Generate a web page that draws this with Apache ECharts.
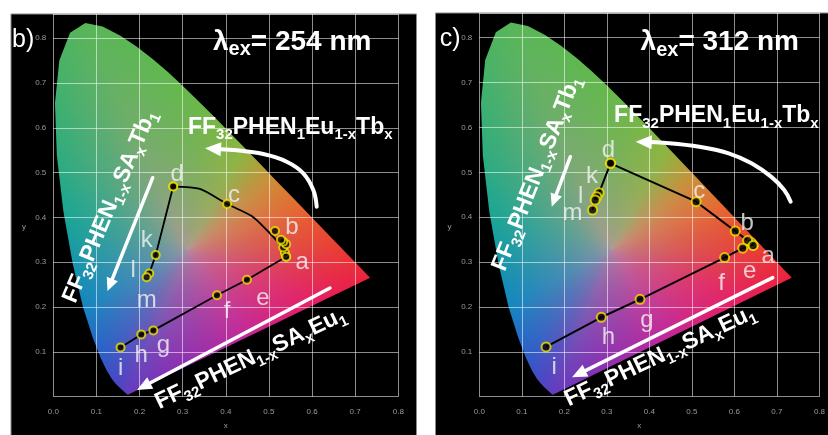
<!DOCTYPE html>
<html>
<head>
<meta charset="utf-8">
<script src="https://cdn.jsdelivr.net/npm/echarts@6/dist/echarts.min.js"></script>
<style>
  html, body { margin: 0; padding: 0; background: #fff; }
  #chart { width: 828px; height: 435px; }
</style>
</head>
<body>
<div id="chart"></div>
<script>
// CIE 1931 2° spectral locus, 380–700 nm in 5 nm steps
const LOCUS_X = [0.1741,0.1740,0.1738,0.1736,0.1733,0.1730,0.1726,0.1721,0.1714,0.1703,0.1689,0.1669,0.1644,0.1611,0.1566,0.1510,0.1440,0.1355,0.1241,0.1096,0.0913,0.0687,0.0454,0.0235,0.0082,0.0039,0.0139,0.0389,0.0743,0.1142,0.1547,0.1929,0.2296,0.2658,0.3016,0.3373,0.3731,0.4087,0.4441,0.4788,0.5125,0.5448,0.5752,0.6029,0.6270,0.6482,0.6658,0.6801,0.6915,0.7006,0.7079,0.7140,0.7190,0.7230,0.7260,0.7283,0.7300,0.7311,0.7320,0.7327,0.7334,0.7340,0.7344,0.7346,0.7347];
const LOCUS_Y = [0.0050,0.0050,0.0049,0.0049,0.0048,0.0048,0.0048,0.0048,0.0051,0.0058,0.0069,0.0086,0.0109,0.0138,0.0177,0.0227,0.0297,0.0399,0.0578,0.0868,0.1327,0.2007,0.2950,0.4127,0.5384,0.6548,0.7502,0.8120,0.8338,0.8262,0.8059,0.7816,0.7543,0.7243,0.6923,0.6589,0.6245,0.5896,0.5547,0.5202,0.4866,0.4544,0.4242,0.3965,0.3725,0.3514,0.3340,0.3197,0.3083,0.2993,0.2920,0.2859,0.2809,0.2770,0.2740,0.2717,0.2700,0.2689,0.2680,0.2673,0.2666,0.2660,0.2656,0.2654,0.2653];

// Axis ticks
const X_TICKS = [0.0, 0.1, 0.2, 0.3, 0.4, 0.5, 0.6, 0.7, 0.8];
const PANEL_TAGS = ['b)', 'c)'];
const EXCITATION_NM = [254, 312];

// Panel b (λex = 254 nm): chromaticity coordinates [x, y]
const B_EUTB = [[0.540,0.3125],[0.537,0.321],[0.533,0.333],[0.540,0.340],[0.533,0.346],[0.528,0.350],[0.514,0.370],[0.403,0.430],[0.278,0.469]];
const B_EUTB_NAMES = ['a','','','','','','b','c','d'];
const B_EUTB_TREND = [[0.278,0.469],[0.340,0.4636],[0.403,0.430],[0.460,0.403],[0.495,0.372],[0.531,0.335]];
const B_SAEU = [[0.540,0.3125],[0.449,0.261],[0.3795,0.2263],[0.232,0.148],[0.204,0.139],[0.156,0.110]];
const B_SAEU_NAMES = ['a','e','f','g','h','i'];
const B_SATB = [[0.278,0.469],[0.2375,0.316],[0.2225,0.275],[0.2165,0.2665]];
const B_SATB_NAMES = ['d','k','l','m'];

// Panel c (λex = 312 nm)
const C_EUTB = [[0.644,0.337],[0.640,0.343],[0.631,0.348],[0.602,0.369],[0.510,0.4345],[0.3086,0.520]];
const C_EUTB_NAMES = ['a','','','b','c','d'];
const C_SAEU = [[0.644,0.337],[0.6195,0.331],[0.577,0.310],[0.378,0.217],[0.287,0.177],[0.157,0.111]];
const C_SAEU_NAMES = ['a','e','f','g','h','i'];
const C_SATB = [[0.3086,0.520],[0.2818,0.4546],[0.2763,0.4457],[0.2726,0.4383],[0.2664,0.416]];
const C_SATB_NAMES = ['d','k','l','','m'];

// ---------------------------------------------------------------------------
const SANS = "'Liberation Sans', Arial, Helvetica, sans-serif";
const NARROW = "'Liberation Sans Narrow', 'Liberation Sans', Arial, sans-serif";
const GRID_LINE = 'rgba(255,255,255,0.55)';
const TICK_TEXT = '#9a9a9a';

// white point used for the gamut shading
const WX = 0.3127, WY = 0.329;
// edge colour of the gamut by hue angle (degrees around the white point)
const HUE_STOPS = [
  [0.8, [234, 62, 50]], [20, [230, 104, 48]], [38, [206, 140, 54]], [60, [140, 182, 62]],
  [86, [106, 184, 72]], [101, [94, 184, 80]], [115, [88, 182, 88]], [133, [60, 176, 112]],
  [164, [26, 166, 148]], [208, [20, 134, 192]], [230, [44, 94, 200]], [241, [74, 70, 196]],
  [247, [100, 60, 190]], [258, [128, 50, 182]], [305, [196, 38, 152]], [339, [230, 30, 100]],
  [351, [236, 34, 62]]
];
const CENTER_RGB = [182, 150, 156];

function hueColor(a) {
  const stops = [[HUE_STOPS[HUE_STOPS.length - 1][0] - 360, HUE_STOPS[HUE_STOPS.length - 1][1]]]
    .concat(HUE_STOPS, [[HUE_STOPS[0][0] + 360, HUE_STOPS[0][1]]]);
  for (let i = 0; i < stops.length - 1; i++) {
    const [a0, c0] = stops[i], [a1, c1] = stops[i + 1];
    if (a >= a0 && a <= a1) {
      const t = (a - a0) / (a1 - a0);
      return [c0[0] + (c1[0] - c0[0]) * t, c0[1] + (c1[1] - c0[1]) * t, c0[2] + (c1[2] - c0[2]) * t];
    }
  }
  return stops[0][1];
}

// distance from the white point to the locus edge, per half degree
const RADIUS = (function () {
  const n = LOCUS_X.length, tab = new Float32Array(721);
  for (let k = 0; k <= 720; k++) {
    const a = k * 0.5 * Math.PI / 180, cx = Math.cos(a), cy = Math.sin(a);
    let best = 1;
    for (let i = 0; i < n; i++) {
      const j = (i + 1) % n;
      const x1 = LOCUS_X[i] - WX, y1 = LOCUS_Y[i] - WY;
      const ex = LOCUS_X[j] - LOCUS_X[i], ey = LOCUS_Y[j] - LOCUS_Y[i];
      const den = cx * ey - cy * ex;
      if (Math.abs(den) < 1e-12) continue;
      const t = (x1 * ey - y1 * ex) / den;
      const s = (x1 * cy - y1 * cx) / den;
      if (t > 0 && s >= -1e-9 && s <= 1 + 1e-9 && t < best) best = t;
    }
    tab[k] = best;
  }
  return tab;
})();

const gamutCache = {};
function paintGamut(key, o, u, w, h) {
  if (gamutCache[key]) return gamutCache[key];
  const cv = document.createElement('canvas');
  cv.width = w; cv.height = h;
  const ctx = cv.getContext('2d');
  const img = ctx.createImageData(w, h);
  const sx = u[0] - o[0], sy = u[1] - o[1];
  const x0 = Math.max(0, Math.floor(o[0] - 2)), x1 = Math.min(w, Math.ceil(o[0] + 0.76 * sx + 2));
  const y0 = Math.max(0, Math.floor(o[1] + 0.86 * sy - 2)), y1 = Math.min(h, Math.ceil(o[1] + 2));
  for (let py = y0; py < y1; py++) {
    for (let px = x0; px < x1; px++) {
      const x = (px + 0.5 - o[0]) / sx, y = (py + 0.5 - o[1]) / sy;
      const dx = x - WX, dy = y - WY;
      let ang = Math.atan2(dy, dx) * 180 / Math.PI;
      if (ang < 0) ang += 360;
      const k = ang * 2, k0 = Math.floor(k), f = k - k0;
      const R = RADIUS[k0] * (1 - f) + RADIUS[Math.min(720, k0 + 1)] * f;
      const t = Math.min(1, Math.sqrt(dx * dx + dy * dy) / R);
      const s = Math.pow(t, 0.5);
      const e = hueColor(ang);
      const idx = (py * w + px) * 4;
      img.data[idx] = CENTER_RGB[0] + (e[0] - CENTER_RGB[0]) * s;
      img.data[idx + 1] = CENTER_RGB[1] + (e[1] - CENTER_RGB[1]) * s;
      img.data[idx + 2] = CENTER_RGB[2] + (e[2] - CENTER_RGB[2]) * s;
      img.data[idx + 3] = 255;
    }
  }
  ctx.putImageData(img, 0, 0);
  gamutCache[key] = cv;
  return cv;
}

function gamutRenderer(key) {
  return function (params, api) {
    const pts = LOCUS_X.map((x, i) => api.coord([x, LOCUS_Y[i]]));
    const o = api.coord([0, 0]), u = api.coord([1, 1]);
    const cv = paintGamut(key, o, u, api.getWidth(), api.getHeight());
    return {
      type: 'polygon',
      shape: { points: pts },
      style: { fill: { image: cv, repeat: 'no-repeat' }, stroke: null },
      silent: true
    };
  };
}

// per-panel layout
const PANELS = [
  {
    grid: { left: 53.3, top: 14, width: 345, height: 382.7 }, yMax: 0.854, symbolSize: 8, lineWidth: 1.8,
    frame: { x: 11, y: 14, width: 405.5, height: 430 },
    paths: [[B_EUTB, B_EUTB_NAMES], [B_SAEU, B_SAEU_NAMES], [B_SATB, B_SATB_NAMES]],
    lines: [{ data: B_EUTB_TREND, smooth: 0.25 }, { data: B_SAEU }, { data: B_SATB }],
    offsets: { a: [16, 6], b: [17, -4], c: [7, -9], d: [4, -12], e: [16, 19], f: [10, 16], g: [10, 15], h: [0, 21], i: [0, 21], k: [-9, -15], l: [-16, -3], m: [0, 23] },
    tagAt: [-0.0958, 0.795], titleAt: [0.3703, 0.7916], formulaAt: [0.3123, 0.6007],
    tbAt: [0.1314, 0.4245], tbRot: 67, euAt: [0.4573, 0.0852], euRot: 25.6,
    curve: [[0.6108,0.4240],[0.6029,0.4613],[0.5797,0.4985],[0.5412,0.5244],[0.4870,0.5416],[0.4174,0.5505],[0.3518,0.5543]],
    tbArrow: [[0.2305,0.4887],[0.1257,0.2359]], euArrow: [[0.6416,0.2426],[0.1941,0.0150]],
    xNameAt: [0.4, -0.0647], yNameAt: [-0.068, 0.3788]
  },
  {
    grid: { left: 479.3, top: 13, width: 347.4, height: 383.7 }, yMax: 0.855, symbolSize: 9, lineWidth: 2,
    frame: { x: 435.5, y: 13, width: 400, height: 430 },
    paths: [[C_EUTB, C_EUTB_NAMES], [C_SAEU, C_SAEU_NAMES], [C_SATB, C_SATB_NAMES]],
    lines: [{ data: C_EUTB }, { data: C_SAEU }, { data: C_SATB }],
    offsets: { a: [15, 11], b: [12, -8], c: [3, -10], d: [-2, -13], e: [7, 23], f: [-3, 26], g: [7, 21], h: [7, 20], i: [8, 20], k: [-7, -16], l: [-16, 0], m: [-20, 3] },
    tagAt: [-0.0928, 0.797], titleAt: [0.3793, 0.790], formulaAt: [0.3171, 0.6255],
    tbAt: [0.1352, 0.4974], tbRot: 68.5, euAt: [0.4253, 0.0907], euRot: 25.4,
    curve: [[0.7323,0.4345],[0.7171,0.4606],[0.6862,0.4903],[0.6402,0.5201],[0.5865,0.5424],[0.5175,0.5571],[0.4329,0.5660],[0.3678,0.5682]],
    tbArrow: [[0.2142,0.5348],[0.1704,0.4234]], euArrow: [[0.6902,0.2652],[0.2181,0.0432]],
    xNameAt: [0.3763, -0.0646], yNameAt: [-0.0698, 0.3788]
  }
];

function tickText(v) {
  const r = Math.round(v * 10);
  return Math.abs(v * 10 - r) < 1e-6 ? (r / 10).toFixed(1) : '';
}

function pointData(paths, offsets) {
  const seen = {}, out = [];
  paths.forEach(([pts, names]) => {
    pts.forEach((p, i) => {
      const nm = names[i] || '';
      const lab = !!nm && !seen[nm];
      if (nm) seen[nm] = true;
      out.push({ value: p, name: nm, label: lab ? { show: true, offset: offsets[nm] } : { show: false } });
    });
  });
  return out;
}

const grids = [], xAxes = [], yAxes = [], series = [];
PANELS.forEach((pn, gi) => {
  grids.push(Object.assign({ containLabel: false, show: false }, pn.grid));
  xAxes.push({
    type: 'value', gridIndex: gi, min: X_TICKS[0], max: X_TICKS[X_TICKS.length - 1], interval: 0.1, z: 1.5,
    axisLine: { show: false }, axisTick: { show: false },
    splitLine: { show: true, lineStyle: { color: GRID_LINE, width: 1 } },
    axisLabel: { color: TICK_TEXT, fontSize: 8, fontFamily: SANS, margin: 11, formatter: tickText }
  });
  yAxes.push({
    type: 'value', gridIndex: gi, min: 0, max: pn.yMax, interval: 0.1, z: 1.5,
    axisLine: { show: false }, axisTick: { show: false },
    splitLine: { show: true, lineStyle: { color: GRID_LINE, width: 1 } },
    axisLabel: { color: TICK_TEXT, fontSize: 8, fontFamily: SANS, margin: 7, showMinLabel: false,
      formatter: v => (v === 0 ? '' : tickText(v)) }
  });
  series.push({
    type: 'custom', name: 'gamut' + gi, xAxisIndex: gi, yAxisIndex: gi, z: 1, silent: true, clip: false,
    data: [[0, 0]], renderItem: gamutRenderer('g' + gi)
  });
  pn.lines.forEach((ln) => {
    series.push({
      type: 'line', xAxisIndex: gi, yAxisIndex: gi, z: 3, data: ln.data, smooth: ln.smooth || false,
      showSymbol: false, silent: true, lineStyle: { color: '#000', width: pn.lineWidth }
    });
  });
  series.push({
    type: 'scatter', xAxisIndex: gi, yAxisIndex: gi, z: 4, silent: true,
    symbol: 'circle', symbolSize: pn.symbolSize,
    itemStyle: { color: '#050505', borderColor: '#f4e400', borderWidth: 2 },
    label: { position: 'inside', formatter: '{b}', color: '#f2f2f2', fontSize: 24, fontFamily: NARROW },
    data: pointData(pn.paths, pn.offsets)
  });
});

const chart = echarts.init(document.getElementById('chart'), null, { renderer: 'canvas', width: 828, height: 435 });
chart.setOption({
  backgroundColor: '#ffffff',
  animation: false,
  grid: grids, xAxis: xAxes, yAxis: yAxes, series: series
});

// ---------------------------------------------------------------------------
// annotations: panel frames, titles, formulas and arrows
function P(gi, pt) { return chart.convertToPixel({ gridIndex: gi }, pt); }

function richSet(main, sub, mainLH) {
  return {
    m: { fontSize: main, fontWeight: 'bold', fontFamily: SANS, lineHeight: mainLH, verticalAlign: 'middle', fill: '#fff', color: '#fff' },
    s: { fontSize: sub, fontWeight: 'bold', fontFamily: SANS, lineHeight: 8, verticalAlign: 'bottom', fill: '#fff', color: '#fff' }
  };
}
function textEl(pos, text, opts) {
  return {
    type: 'text', x: pos[0], y: pos[1], rotation: (opts.rot || 0) * Math.PI / 180, z: 10, silent: true,
    style: Object.assign({
      text: text, fill: '#fff', align: opts.align || 'center', verticalAlign: 'middle',
      textAlign: opts.align || 'center', textVerticalAlign: 'middle'
    }, opts.style || {})
  };
}
function headPoints(tip, from, len, half) {
  const dx = tip[0] - from[0], dy = tip[1] - from[1], L = Math.hypot(dx, dy), ux = dx / L, uy = dy / L;
  const bx = tip[0] - ux * len, by = tip[1] - uy * len;
  return { head: [tip, [bx - uy * half, by + ux * half], [bx + uy * half, by - ux * half]], base: [tip[0] - ux * len * 0.7, tip[1] - uy * len * 0.7] };
}
function arrowEls(pix, width, len, half, smooth) {
  const tip = pix[pix.length - 1], prev = pix[pix.length - 2];
  const hp = headPoints(tip, prev, len, half);
  const shaft = pix.slice(0, -1).concat([hp.base]);
  return [
    { type: 'polyline', z: 10, silent: true, shape: { points: shaft, smooth: smooth || 0 }, style: { stroke: '#fff', lineWidth: width, fill: null, lineCap: 'round' } },
    { type: 'polygon', z: 10, silent: true, shape: { points: hp.head }, style: { fill: '#fff' } }
  ];
}

const FORMULA_EUTB = '{m|FF}{s|32}{m|PHEN}{s|1}{m|Eu}{s|1-x}{m|Tb}{s|x}';
const FORMULA_SATB = '{m|FF}{s|32}{m|PHEN}{s|1-x}{m|SA}{s|x}{m|Tb}{s|1}';
const FORMULA_SAEU = '{m|FF}{s|32}{m|PHEN}{s|1-x}{m|SA}{s|x}{m|Eu}{s|1}';

const els = [];
PANELS.forEach((pn, gi) => {
  els.push({ type: 'rect', z: -5, silent: true, shape: pn.frame, style: { fill: '#000', stroke: '#8a8a8a', lineWidth: 1 } });
  els.push(textEl(P(gi, pn.tagAt), PANEL_TAGS[gi], { align: 'left', style: { font: '25px ' + SANS, fill: '#fff' } }));
  els.push(textEl(P(gi, pn.titleAt), '{m|λ}{s|ex}{m|= ' + EXCITATION_NM[gi] + ' nm}',
    { align: 'left', style: { rich: (function () { const r = richSet(28, 20, 36); r.s.lineHeight = 10; return r; })() } }));
  els.push(textEl(P(gi, pn.formulaAt), FORMULA_EUTB, { align: 'left', style: { rich: richSet(23, 15, 30) } }));
  els.push(textEl(P(gi, pn.tbAt), FORMULA_SATB, { rot: pn.tbRot, style: { rich: richSet(23, 15, 30) } }));
  els.push(textEl(P(gi, pn.euAt), FORMULA_SAEU, { rot: pn.euRot, style: { rich: richSet(23, 15, 30) } }));
  els.push(textEl(P(gi, pn.xNameAt), 'x', { style: { font: '8px ' + SANS, fill: TICK_TEXT } }));
  els.push(textEl(P(gi, pn.yNameAt), 'y', { style: { font: '8px ' + SANS, fill: TICK_TEXT } }));
  arrowEls(pn.curve.map(p => P(gi, p)), 4, 16, 7, 0.4).forEach(e => els.push(e));
  arrowEls(pn.tbArrow.map(p => P(gi, p)), 3.5, 13, 6).forEach(e => els.push(e));
  arrowEls(pn.euArrow.map(p => P(gi, p)), 3.5, 15, 6.5).forEach(e => els.push(e));
});
chart.setOption({ graphic: { elements: els } });
</script>
</body>
</html>
